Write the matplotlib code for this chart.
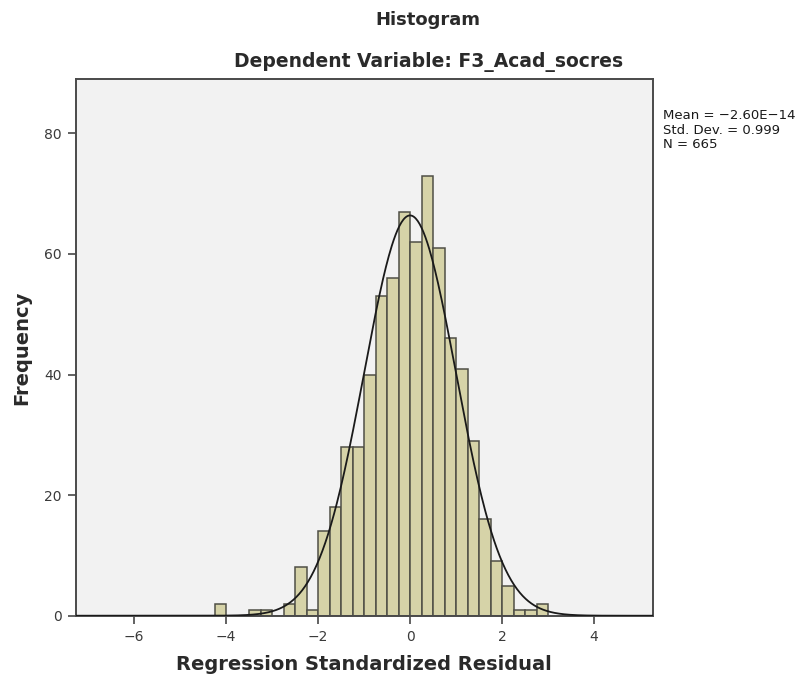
import matplotlib
matplotlib.use("Agg")
import matplotlib.pyplot as plt
import numpy as np

# histogram of regression standardized residuals (bin width 0.25)
bin_start = -4.25
bin_width = 0.25
counts = [2, 0, 0, 1, 1, 0, 2, 8, 1, 14, 18, 28, 28, 40, 53, 56, 67,
          62, 73, 61, 46, 41, 29, 16, 9, 5, 1, 1, 2]

mean = -2.60e-14
std = 0.999
n = 665

x_ticks = [-6, -4, -2, 0, 2, 4]
y_ticks = [0, 20, 40, 60, 80]

plt.rcParams['font.family'] = ['DejaVu Sans']

fig = plt.figure(figsize=(8.04, 6.82), dpi=100)
ax = fig.add_axes([0.0942, 0.0972, 0.812 - 0.0942, 0.884 - 0.0972])
ax.set_facecolor("#f2f2f2")

lefts = bin_start + bin_width * np.arange(len(counts))
ax.bar(lefts, counts, width=bin_width, align="edge",
       color="#d6d3a8", edgecolor="#4f4f46", linewidth=1.1, zorder=2)

# normal curve from the reported mean / std dev
xs = np.linspace(-7.27, 5.28, 600)
ys = n * bin_width * np.exp(-0.5 * ((xs - mean) / std) ** 2) / (std * np.sqrt(2 * np.pi))
ax.plot(xs, ys, color="#1a1a1a", linewidth=1.3, zorder=3)

ax.set_xlim(-7.27, 5.28)
ax.set_ylim(0, 89)
ax.set_xticks(x_ticks)
ax.set_yticks(y_ticks)
ax.tick_params(direction="out", length=6, width=1.3, colors="#555555",
               labelcolor="#3a3a3a", labelsize=10, pad=4)
for s in ax.spines.values():
    s.set_color("#4a4a4a")
    s.set_linewidth(1.4)

ax.set_xlabel("Regression Standardized Residual", fontsize=14, fontweight="bold",
              color="#2a2a2a", labelpad=8)
ax.set_ylabel("Frequency", fontsize=14, fontweight="bold", color="#2a2a2a", labelpad=9)

fig.text(428 / 804, 1 - 20 / 682, "Histogram", ha="center", va="center",
         fontsize=13, fontweight="bold", color="#2a2a2a")
fig.text(429 / 804, 1 - 62 / 682, "Dependent Variable: F3_Acad_socres", ha="center",
         va="center", fontsize=13.5, fontweight="bold", color="#2a2a2a")

fig.text(663 / 804, 1 - 109 / 682,
         "Mean = \u22122.60E\u221214\nStd. Dev. = 0.999\nN = 665",
         ha="left", va="top", fontsize=9.5, color="#1a1a1a", linespacing=1.15)

fig.savefig("out.png", dpi=100, facecolor="white")
